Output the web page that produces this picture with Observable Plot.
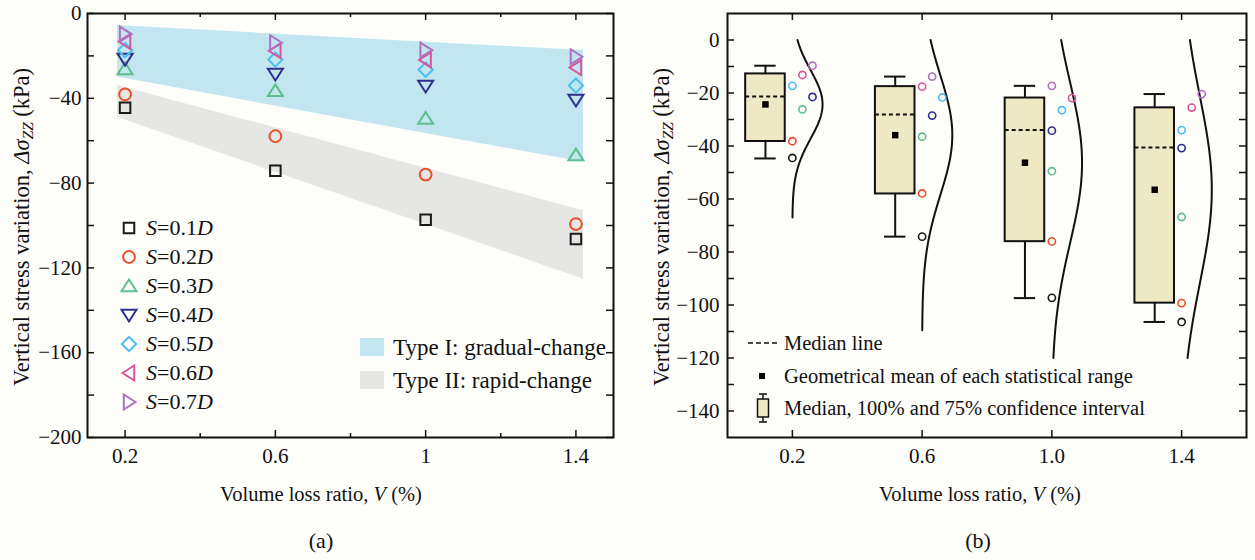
<!DOCTYPE html>
<html>
<head>
<meta charset="utf-8">
<script src="https://cdn.jsdelivr.net/npm/d3@7"></script>
<script src="https://cdn.jsdelivr.net/npm/@observablehq/plot@0.6"></script>
<style>
  html, body { margin: 0; padding: 0; background: #fdfdfa; }
  #wrap { position: relative; width: 1255px; height: 560px; overflow: hidden;
          font-family: "Liberation Serif", "Times New Roman", serif; color: #111; }
  .abs { position: absolute; white-space: nowrap; }
  .mid { transform: translateY(-50%); line-height: 1; }
  .ctr { transform: translate(-50%, -50%); line-height: 1; }
  .rot { transform: translate(-50%, -50%) rotate(-90deg); line-height: 1; }
  sub { font-size: 0.68em; vertical-align: -0.3em; line-height: 0; }
</style>
</head>
<body>
<div id="wrap"></div>
<script>
// ---------------- data ----------------
const volumeLoss = [0.2, 0.6, 1.0, 1.4];
const seriesLabels = ["0.1", "0.2", "0.3", "0.4", "0.5", "0.6", "0.7"];
const s01 = [-44.5, -74.2, -97.3, -106.4];
const s02 = [-38.2, -57.9, -76.0, -99.3];
const s03 = [-26.2, -36.5, -49.5, -66.8];
const s04 = [-21.5, -28.5, -34.2, -40.8];
const s05 = [-17.3, -21.7, -26.5, -34.0];
const s06 = [-13.2, -17.6, -21.9, -25.5];
const s07 = [-9.7, -13.8, -17.3, -20.4];
const seriesColors = ["#1a1a1a", "#e8502a", "#5dbf8d", "#2e2e8c", "#4dbfee", "#d9559b", "#b070c0"];

// panel (a) bands
const bandV = [0.18, 1.42];
const typeITop = [-5.7, -17.5];
const typeIBottom = [-30.0, -70.2];
const typeIITop = [-34.0, -93.0];
const typeIIBottom = [-49.0, -125.3];

// panel (b) statistics
const boxMax = [-9.7, -13.8, -17.3, -20.4];
const boxUpper = [-12.8, -17.6, -21.9, -25.6];
const boxMedian = [-21.3, -28.1, -34.0, -40.6];
const boxLower = [-38.3, -58.1, -76.1, -99.3];
const boxMin = [-44.7, -74.2, -97.4, -106.4];
const boxMean = [-24.3, -35.9, -46.3, -56.5];
const curveSd = [12.9, 22.5, 30.2, 35.2];
const curveTop = [0, 0, 0, 0];
const curveBottom = [-67, -109.5, -120, -120];
// dot lanes (per series) at each volume loss in panel (b)
const lane02 = [0, 0, 1, 2, 0, 1, 2];
const lane06 = [0, 0, 0, 1, 2, 0, 1];
const lane10 = [0, 0, 0, 0, 1, 2, 0];
const lane14 = [0, 0, 0, 0, 0, 1, 2];

// ticks
const xTicksA = [0.2, 0.6, 1.0, 1.4];
const xMinorA = [0.4, 0.8, 1.2];
const yLabelsA = [0, -40, -80, -120, -160, -200];
const yTicksA = d3.range(0, -201, -20);
const xTicksB = [0.2, 0.6, 1.0, 1.4];
const yLabelsB = [0, -20, -40, -60, -80, -100, -120, -140];
const yTicksB = d3.range(0, -141, -10);

// ---------------- symbols ----------------
function makeSym(fn) { return { draw(ctx, size) { fn(ctx, Math.sqrt(size / Math.PI)); } }; }
const symSquare = makeSym((c, r) => { const h = r * 0.85; c.moveTo(-h, -h); c.lineTo(h, -h); c.lineTo(h, h); c.lineTo(-h, h); c.closePath(); });
const symCircle = makeSym((c, r) => { const a = r * 0.95; c.moveTo(a, 0); c.arc(0, 0, a, 0, 2 * Math.PI); c.closePath(); });
const symUp = makeSym((c, r) => { const a = r * 1.05; c.moveTo(0, -a); c.lineTo(a * 1.15, a * 0.8); c.lineTo(-a * 1.15, a * 0.8); c.closePath(); });
const symDown = makeSym((c, r) => { const a = r * 1.05; c.moveTo(0, a); c.lineTo(a * 1.15, -a * 0.8); c.lineTo(-a * 1.15, -a * 0.8); c.closePath(); });
const symDiamond = makeSym((c, r) => { const a = r * 1.15; c.moveTo(0, -a); c.lineTo(a, 0); c.lineTo(0, a); c.lineTo(-a, 0); c.closePath(); });
const symLeft = makeSym((c, r) => { const a = r * 1.05; c.moveTo(-a, 0); c.lineTo(a * 0.8, -a * 1.15); c.lineTo(a * 0.8, a * 1.15); c.closePath(); });
const symRight = makeSym((c, r) => { const a = r * 1.05; c.moveTo(a, 0); c.lineTo(-a * 0.8, -a * 1.15); c.lineTo(-a * 0.8, a * 1.15); c.closePath(); });
const seriesSymbols = [symSquare, symCircle, symUp, symDown, symDiamond, symLeft, symRight];
function symPath(sym, r) { const p = d3.path(); sym.draw(p, Math.PI * r * r); return p.toString(); }

// ---------------- tables ----------------
const seriesValues = [s01, s02, s03, s04, s05, s06, s07];
const lanes = [lane02, lane06, lane10, lane14];
const points = [];
seriesValues.forEach((vals, si) => vals.forEach((y, vi) => points.push({
  s: si, v: volumeLoss[vi], y, color: seriesColors[si], lane: lanes[vi][si]
})));
const bands = bandV.map((v, i) => ({ v, t1: typeITop[i], b1: typeIBottom[i], t2: typeIITop[i], b2: typeIIBottom[i] }));
const boxes = volumeLoss.map((v, i) => ({ v, max: boxMax[i], upper: boxUpper[i], median: boxMedian[i], lower: boxLower[i], min: boxMin[i], mean: boxMean[i] }));

const boxOffset = -0.083, boxHalf = 0.061, capHalf = 0.033, laneStep = 0.031, curveAmp = 0.093;
const curvePts = [];
volumeLoss.forEach((v, i) => {
  for (let y = curveTop[i]; y >= curveBottom[i] - 1e-9; y -= 0.5) {
    const z = (y - boxMean[i]) / curveSd[i];
    curvePts.push({ g: i, x: v + curveAmp * Math.exp(-0.5 * z * z), y });
  }
});

const FONT = '"Liberation Serif", "Times New Roman", serif';
const wrap = document.getElementById("wrap");

// ---------------- panel (a) ----------------
const A = { w: 640, h: 470, ml: 87, mr: 27, mt: 13, mb: 33 };
const aiw = A.w - A.ml - A.mr, aih = A.h - A.mt - A.mb;
const plotA = Plot.plot({
  width: A.w, height: A.h,
  marginLeft: A.ml, marginRight: A.mr, marginTop: A.mt, marginBottom: A.mb,
  style: { fontFamily: FONT, fontSize: "21px", background: "transparent", color: "#111", overflow: "visible" },
  x: { domain: [0.1, 1.5] },
  y: { domain: [-200, 0] },
  marks: [
    Plot.areaY(bands, { x: "v", y1: "b1", y2: "t1", fill: "#c2e6f0" }),
    Plot.areaY(bands, { x: "v", y1: "b2", y2: "t2", fill: "#e6e7e4" }),
    ...seriesValues.map((vals, si) => Plot.dot(points.filter(d => d.s === si), {
      x: "v", y: "y", symbol: seriesSymbols[si], r: 6.2, fill: "none", stroke: seriesColors[si], strokeWidth: 2
    })),
    Plot.ruleX(xTicksA, { insetTop: aih - 7, stroke: "#111", strokeWidth: 1.5 }),
    Plot.ruleX(xTicksA, { insetBottom: aih - 7, stroke: "#111", strokeWidth: 1.5 }),
    Plot.ruleX(xMinorA, { insetTop: aih - 4, stroke: "#111", strokeWidth: 1.5 }),
    Plot.ruleX(xMinorA, { insetBottom: aih - 4, stroke: "#111", strokeWidth: 1.5 }),
    Plot.ruleY(yTicksA, { insetRight: aiw - 7, stroke: "#111", strokeWidth: 1.5 }),
    Plot.ruleY(yTicksA, { insetLeft: aiw - 7, stroke: "#111", strokeWidth: 1.5 }),
    Plot.axisX({ ticks: xTicksA, tickSize: 0, tickPadding: 11, label: null, tickFormat: d3.format("~g") }),
    Plot.axisY({ ticks: yLabelsA, tickSize: 0, tickPadding: 6, label: null, tickFormat: d3.format("d") }),
    Plot.frame({ stroke: "#111", strokeWidth: 2 })
  ]
});
plotA.style.position = "absolute"; plotA.style.left = "0px"; plotA.style.top = "0px";
wrap.appendChild(plotA);

// ---------------- panel (b) ----------------
const B = { left: 640, w: 615, h: 470, ml: 87, mr: 9, mt: 13, mb: 33 };
const biw = B.w - B.ml - B.mr, bih = B.h - B.mt - B.mb;
const plotB = Plot.plot({
  width: B.w, height: B.h,
  marginLeft: B.ml, marginRight: B.mr, marginTop: B.mt, marginBottom: B.mb,
  style: { fontFamily: FONT, fontSize: "21px", background: "transparent", color: "#111", overflow: "visible" },
  x: { domain: [0, 1.6] },
  y: { domain: [-150, 10] },
  marks: [
    Plot.line(curvePts, { x: "x", y: "y", z: "g", stroke: "#111", strokeWidth: 2 }),
    Plot.ruleX(boxes, { x: d => d.v + boxOffset, y1: "upper", y2: "max", stroke: "#111", strokeWidth: 2 }),
    Plot.ruleX(boxes, { x: d => d.v + boxOffset, y1: "lower", y2: "min", stroke: "#111", strokeWidth: 2 }),
    Plot.ruleY(boxes, { y: "max", x1: d => d.v + boxOffset - capHalf, x2: d => d.v + boxOffset + capHalf, stroke: "#111", strokeWidth: 2 }),
    Plot.ruleY(boxes, { y: "min", x1: d => d.v + boxOffset - capHalf, x2: d => d.v + boxOffset + capHalf, stroke: "#111", strokeWidth: 2 }),
    Plot.rect(boxes, { x1: d => d.v + boxOffset - boxHalf, x2: d => d.v + boxOffset + boxHalf, y1: "lower", y2: "upper", fill: "#efe8c4", stroke: "#111", strokeWidth: 2 }),
    Plot.ruleY(boxes, { y: "median", x1: d => d.v + boxOffset - boxHalf, x2: d => d.v + boxOffset + boxHalf, stroke: "#111", strokeWidth: 2, strokeDasharray: "4,3" }),
    Plot.dot(boxes, { x: d => d.v + boxOffset, y: "mean", symbol: symSquare, r: 3.8, fill: "#000", stroke: "none" }),
    Plot.dot(points, { x: d => d.v + d.lane * laneStep, y: "y", r: 3.6, symbol: "circle", fill: "none", stroke: "color", strokeWidth: 1.6 }),
    Plot.ruleX(xTicksB, { insetTop: bih - 7, stroke: "#111", strokeWidth: 1.5 }),
    Plot.ruleX(xTicksB, { insetBottom: bih - 7, stroke: "#111", strokeWidth: 1.5 }),
    Plot.ruleY(yTicksB, { insetRight: biw - 7, stroke: "#111", strokeWidth: 1.5 }),
    Plot.ruleY(yTicksB, { insetLeft: biw - 7, stroke: "#111", strokeWidth: 1.5 }),
    Plot.axisX({ ticks: xTicksB, tickSize: 0, tickPadding: 11, label: null, tickFormat: d3.format(".1f") }),
    Plot.axisY({ ticks: yLabelsB, tickSize: 0, tickPadding: 8, label: null, tickFormat: d3.format("d") }),
    Plot.frame({ stroke: "#111", strokeWidth: 2 })
  ]
});
plotB.style.position = "absolute"; plotB.style.left = B.left + "px"; plotB.style.top = "0px";
wrap.appendChild(plotB);

// ---------------- text & legends ----------------
function addDiv(html, cls, x, y, style = "") {
  const d = document.createElement("div");
  d.className = "abs " + cls;
  d.style.cssText = `left:${x}px;top:${y}px;${style}`;
  d.innerHTML = html;
  wrap.appendChild(d);
  return d;
}
const yTitle = 'Vertical stress variation, <i>Δσ</i><sub><i>ZZ</i></sub> (kPa)';
const xTitle = 'Volume loss ratio, <i>V</i> (%)';
addDiv(yTitle, "rot", 22, 227, "font-size:22.5px;");
addDiv(yTitle, "rot", 662, 227, "font-size:22.5px;");
addDiv(xTitle, "ctr", 321, 494, "font-size:20.5px;");
addDiv(xTitle, "ctr", 980, 494, "font-size:20.5px;");
addDiv("(a)", "ctr", 321, 541, "font-size:22px;");
addDiv("(b)", "ctr", 978, 541, "font-size:22px;");

// legend (a): series
const legRowY = [228, 257, 286, 315, 344, 373, 402];
seriesLabels.forEach((lab, i) => {
  const p = symPath(seriesSymbols[i], 6.2);
  addDiv(`<svg width="20" height="20" viewBox="-10 -10 20 20" style="display:block"><path d="${p}" fill="none" stroke="${seriesColors[i]}" stroke-width="2"/></svg>`,
    "ctr", 129, legRowY[i]);
  addDiv(`<i>S</i>=${lab}<i>D</i>`, "mid", 146, legRowY[i], "font-size:22px;");
});
// legend (a): bands
[["Type I: gradual-change", "#c2e6f0", 347], ["Type II: rapid-change", "#e6e7e4", 380]].forEach(([t, c, y]) => {
  addDiv("", "", 360, y - 9, `width:24px;height:18px;background:${c};`);
  addDiv(t, "mid", 393, y, "font-size:23px;");
});
// legend (b)
addDiv(`<svg width="32" height="6" style="display:block"><line x1="1" y1="3" x2="31" y2="3" stroke="#111" stroke-width="1.6" stroke-dasharray="5,3"/></svg>`, "mid", 747, 343);
addDiv("Median line", "mid", 784, 343, "font-size:20.5px;");
addDiv(`<svg width="8" height="8" style="display:block"><rect x="1" y="1" width="6" height="6" fill="#000"/></svg>`, "ctr", 762, 376);
addDiv("Geometrical mean of each statistical range", "mid", 784, 376, "font-size:20.5px;");
addDiv(`<svg width="16" height="32" style="display:block"><line x1="8" y1="2" x2="8" y2="30" stroke="#111" stroke-width="1.5"/><line x1="4" y1="2" x2="12" y2="2" stroke="#111" stroke-width="1.5"/><line x1="4" y1="30" x2="12" y2="30" stroke="#111" stroke-width="1.5"/><rect x="2.5" y="7" width="11" height="18" fill="#efe8c4" stroke="#111" stroke-width="1.5"/></svg>`, "ctr", 763, 408);
addDiv("Median, 100% and 75% confidence interval", "mid", 784, 408, "font-size:20.5px;");
</script>
</body>
</html>
